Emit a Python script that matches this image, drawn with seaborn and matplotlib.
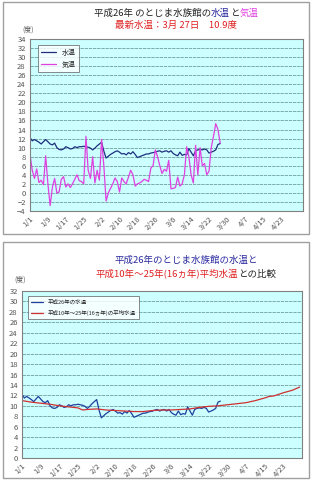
import numpy as np
import pandas as pd
import seaborn as sns
import matplotlib.pyplot as plt
from matplotlib.patches import Rectangle

# x tick labels (every 8 days from 1/1)
tick_labels = ['1/1', '1/9', '1/17', '1/25', '2/2', '2/10', '2/18', '2/26',
               '3/6', '3/14', '3/22', '3/30', '4/7', '4/15', '4/23']

# 2014 daily water temperature, 1/1 .. 3/27
water_2014 = [12.2, 11.5, 11.8, 11.5, 11.2, 10.8, 11.3, 11.8, 11.3, 10.8,
              10.6, 11.0, 10.0, 9.6, 9.5, 9.7, 10.2, 10.0, 9.7, 9.8,
              10.2, 10.0, 10.2, 10.2, 10.3, 10.2, 10.1, 9.9, 9.5, 9.9,
              10.4, 10.8, 11.2, 9.2, 7.7, 8.1, 8.5, 8.8, 9.1, 9.3,
              9.0, 8.6, 8.7, 8.4, 8.9, 8.6, 9.1, 8.5, 7.8, 8.0,
              8.2, 8.4, 8.6, 8.6, 8.8, 8.9, 9.0, 9.2, 9.3, 9.0,
              9.2, 9.3, 9.0, 9.3, 8.7, 8.4, 8.2, 9.0, 8.3, 8.5,
              8.4, 9.8, 9.0, 8.2, 9.3, 9.5, 9.6, 9.5, 9.7, 9.5,
              8.8, 9.0, 9.2, 9.5, 10.7, 10.9]

# 2014 daily air temperature, 1/1 .. 3/27
air_2014 = [8.5, 5.0, 3.2, 5.3, 2.3, 2.8, 1.8, 8.2, 2.0, -2.8,
            1.2, 3.2, 0.0, 0.2, 3.0, 3.6, 1.3, 2.0, 1.2, 2.0,
            3.0, 4.0, 2.7, 2.5, 2.0, 12.5, 5.0, 3.2, 8.0, 2.2,
            5.0, 2.8, 11.8, 6.0, -1.8, 0.0, 1.0, 2.0, 3.3, 2.5,
            0.2, 3.3, 2.5, 2.0, 3.5, 5.0, 4.0, 1.5, 2.0, 2.2,
            2.5, 3.0, 2.8, 2.5, 5.5, 6.0, 9.5, 8.0, 6.0, 4.3,
            5.2, 4.8, 7.2, 0.9, 1.0, 1.2, 3.5, 1.5, 2.0, 4.0,
            10.2, 8.0, 4.0, 2.2, 10.5, 4.0, 10.0, 6.0, 6.5, 4.0,
            4.8, 10.0, 12.5, 15.3, 14.0, 11.0]

# 1998-2013 (16 years) average water temperature, sampled every 4 days 1/1 .. 4/30
avg_days = [0, 4, 8, 12, 16, 20, 24, 26, 28, 32, 36, 40, 44, 48, 52, 56, 60,
            64, 68, 72, 76, 80, 84, 88, 92, 96, 100, 104, 106, 108, 112, 116, 119]
avg_temp = [11.0, 10.7, 10.5, 10.3, 10.0, 9.8, 9.6, 9.2, 9.3, 9.4, 9.2, 9.1,
            9.0, 8.9, 8.9, 9.1, 9.2, 9.2, 9.3, 9.4, 9.7, 9.9, 10.0, 10.2,
            10.4, 10.6, 11.0, 11.5, 11.8, 11.9, 12.5, 13.0, 13.6]

water_df = pd.DataFrame({'day': np.arange(len(water_2014)), 'temp': water_2014})
air_df = pd.DataFrame({'day': np.arange(len(air_2014)), 'temp': air_2014})
avg_df = pd.DataFrame({'day': avg_days, 'temp': avg_temp})

sns.set_theme(style='white')
plt.rcParams['font.family'] = ['Noto Sans CJK JP', 'DejaVu Sans']

fig = plt.figure(figsize=(3.12, 4.8), dpi=100)

# panel frames
for y0, h in [(1 - 234 / 480, 232 / 480), (2 / 480, 236 / 480)]:
    fig.patches.append(Rectangle((3 / 312, y0), 306 / 312, h, transform=fig.transFigure,
                                 fill=False, edgecolor='#a0a0a0', linewidth=1.0))

bg = '#ccffff'
grid_col = '#6f9f9f'
navy = '#1f2f7f'
magenta = '#e040e0'


def style_axes(ax, ymin, ymax, xmax):
    ax.set_facecolor(bg)
    ax.set_xlim(0, xmax)
    ax.set_ylim(ymin, ymax)
    ax.set_yticks(np.arange(ymin, ymax + 1, 2))
    ax.set_xticks(np.arange(len(tick_labels)) * 8)
    ax.set_xticklabels(tick_labels, rotation=45, ha='right', rotation_mode='anchor')
    ax.tick_params(axis='both', labelsize=5.5, length=2, pad=1, colors='#555555')
    for y in np.arange(ymin + 2, ymax, 2):
        ax.axhline(y, color=grid_col, linewidth=0.6, linestyle=(0, (4, 1)), zorder=0)
    for s in ax.spines.values():
        s.set_color('#808080')
        s.set_linewidth(0.8)
    ax.set_xlabel('')
    ax.set_ylabel('')


# ---- top chart
ax1 = fig.add_axes([30 / 312, 1 - 211 / 480, 273 / 312, 172 / 480])
sns.lineplot(data=water_df, x='day', y='temp', ax=ax1, color=navy, linewidth=0.9, label='水温')
sns.lineplot(data=air_df, x='day', y='temp', ax=ax1, color=magenta, linewidth=0.9, label='気温')
style_axes(ax1, -4, 34, 122)
leg = ax1.legend(loc='upper left', bbox_to_anchor=(0.015, 0.985), fontsize=5, frameon=True,
                 fancybox=False, edgecolor='#555555', handlelength=2.2, borderpad=0.5,
                 labelspacing=0.6)
leg.get_frame().set_linewidth(0.6)
leg.get_frame().set_facecolor('white')

fig.text(22 / 312, 1 - 30 / 480, '(度)', fontsize=5, color='#555555', va='center')
# title line 1 with coloured words
t1 = ['平成26年 のとじま水族館の', '水温', 'と', '気温']
c1 = ['#222222', '#2a2aa0', '#222222', magenta]
fig.canvas.draw()
r = fig.canvas.get_renderer()
parts = []
for s, c in zip(t1, c1):
    parts.append(fig.text(0, 1 - 13 / 480, s, fontsize=6.8, color=c, va='center'))
widths = [p.get_window_extent(r).width for p in parts]
x = (312 / 2 + 20 - sum(widths) / 2)
for p, w in zip(parts, widths):
    p.set_x(x / 312)
    x += w
fig.text(0.5 + 20 / 312, 1 - 25 / 480, '最新水温：3月 27日　10.9度', fontsize=6.8, color='#e02020',
         ha='center', va='center')

# ---- bottom chart
ax2 = fig.add_axes([22 / 312, 1 - 458 / 480, 280 / 312, 167 / 480])
sns.lineplot(data=water_df, x='day', y='temp', ax=ax2, color='#1f3f9f', linewidth=0.9,
             label='平成26年の水温')
sns.lineplot(data=avg_df, x='day', y='temp', ax=ax2, color='#d03030', linewidth=0.9,
             label='平成10年～25年(16ヵ年)の平均水温')
style_axes(ax2, 0, 32, 120)
leg2 = ax2.legend(loc='upper left', bbox_to_anchor=(0.01, 0.985), fontsize=4, frameon=True,
                  fancybox=False, edgecolor='#555555', handlelength=2.2, borderpad=0.6,
                  labelspacing=0.9)
leg2.get_frame().set_linewidth(0.6)
leg2.get_frame().set_facecolor('white')

fig.text(14 / 312, 1 - 280 / 480, '(度)', fontsize=5, color='#555555', va='center')
fig.text(0.5 + 30 / 312, 1 - 260 / 480, '平成26年のとじま水族館の水温と', fontsize=6.8,
         color='#2a2aa0', ha='center', va='center')
t2 = ['平成10年～25年(16ヵ年)平均水温', 'との比較']
c2 = ['#e02020', '#222222']
parts = []
for s, c in zip(t2, c2):
    parts.append(fig.text(0, 1 - 274 / 480, s, fontsize=6.8, color=c, va='center'))
widths = [p.get_window_extent(r).width for p in parts]
x = (312 / 2 + 30 - sum(widths) / 2)
for p, w in zip(parts, widths):
    p.set_x(x / 312)
    x += w

fig.savefig('out.png', dpi=100, facecolor='white')
